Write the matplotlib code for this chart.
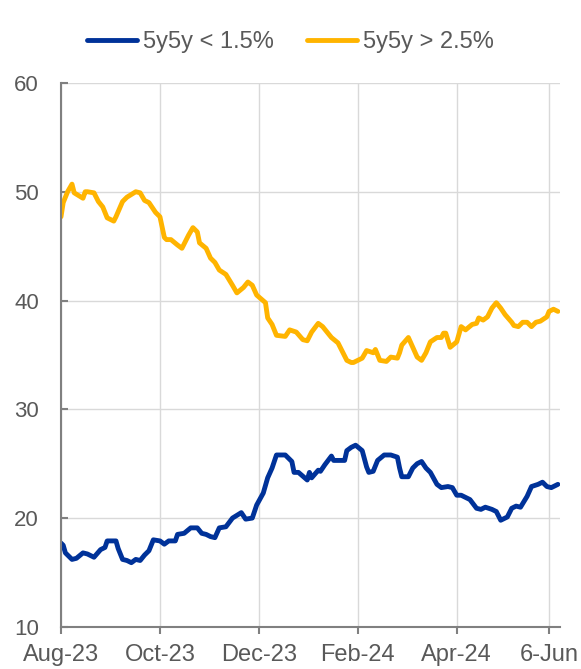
import numpy as np
import matplotlib as mpl
mpl.use('Agg')
import matplotlib.pyplot as plt

# observation index (trading days from start of Aug-23) and share of probability (%)
low_day = [0, 1, 2, 5, 7, 10, 12, 15, 18, 20, 21, 25, 26, 28, 30, 32, 34, 36, 38, 40,
           42, 45, 47, 49, 52, 53, 56, 59, 62, 64, 66, 68, 70, 72, 75, 78, 82, 84, 87, 89,
           92, 94, 96, 98, 102, 105, 106, 108, 112, 113, 114, 117, 118, 120, 123, 124, 129, 130, 132, 134,
           137, 139, 140, 142, 144, 147, 150, 153, 154, 155, 158, 160, 162, 164, 166, 168, 171, 173, 176, 178,
           180, 182, 186, 189, 191, 193, 196, 198, 200, 203, 205, 207, 209, 212, 214, 217, 219, 221, 223, 226]
low_val = [17.7, 17.5, 16.8, 16.2, 16.3, 16.8, 16.7, 16.4, 17.1, 17.3, 17.9, 17.9, 17.2, 16.2, 16.1, 15.9, 16.2, 16.1, 16.6, 17.0,
           18.0, 17.9, 17.6, 17.9, 17.9, 18.5, 18.6, 19.1, 19.1, 18.6, 18.5, 18.3, 18.2, 19.1, 19.2, 20.0, 20.5, 19.9, 20.0, 21.2,
           22.3, 23.7, 24.6, 25.8, 25.8, 25.2, 24.2, 24.2, 23.5, 24.2, 23.7, 24.4, 24.3, 24.9, 25.7, 25.3, 25.3, 26.2, 26.5, 26.7,
           26.2, 24.7, 24.2, 24.3, 25.3, 25.8, 25.8, 25.6, 24.6, 23.8, 23.8, 24.6, 25.0, 25.2, 24.6, 24.2, 23.1, 22.8, 22.9, 22.8,
           22.1, 22.1, 21.7, 20.9, 20.8, 21.0, 20.8, 20.6, 19.8, 20.1, 20.9, 21.1, 21.0, 22.0, 22.9, 23.1, 23.3, 22.9, 22.8, 23.1]

high_day = [0, 1, 3, 5, 6, 10, 11, 12, 15, 17, 19, 21, 24, 25, 28, 30, 34, 36, 38, 40,
            43, 45, 47, 48, 50, 53, 55, 58, 60, 62, 63, 66, 68, 70, 72, 75, 78, 80, 83, 85,
            87, 89, 93, 94, 96, 98, 102, 104, 107, 110, 112, 114, 117, 119, 121, 123, 126, 128, 130, 132,
            133, 137, 139, 142, 143, 145, 148, 150, 153, 154, 155, 158, 160, 162, 164, 166, 168, 171, 173, 174,
            175, 177, 180, 182, 184, 187, 189, 190, 192, 194, 196, 198, 200, 202, 205, 206, 208, 210, 212, 214,
            216, 218, 221, 222, 224, 226]
high_val = [47.7, 49.0, 50.0, 50.7, 49.9, 49.4, 50.0, 50.0, 49.9, 49.1, 48.6, 47.6, 47.3, 47.7, 49.1, 49.5, 50.0, 49.9, 49.2, 49.0,
            48.1, 47.7, 45.8, 45.6, 45.6, 45.1, 44.8, 46.0, 46.7, 46.3, 45.3, 44.8, 43.9, 43.5, 42.8, 42.4, 41.4, 40.7, 41.2, 41.7,
            41.4, 40.5, 39.8, 38.4, 37.8, 36.8, 36.7, 37.3, 37.1, 36.4, 36.3, 37.1, 37.9, 37.6, 37.1, 36.6, 36.1, 35.3, 34.5, 34.3,
            34.3, 34.7, 35.4, 35.2, 35.5, 34.5, 34.4, 34.8, 34.7, 35.2, 35.9, 36.6, 35.7, 34.8, 34.5, 35.2, 36.2, 36.6, 36.6, 37.0,
            37.0, 35.7, 36.2, 37.6, 37.3, 37.8, 37.9, 38.4, 38.2, 38.5, 39.3, 39.8, 39.3, 38.7, 38.0, 37.7, 37.6, 38.0, 38.0, 37.6,
            38.0, 38.1, 38.5, 39.0, 39.2, 39.0]

tick_day = [0, 45, 90, 135, 180, 222]
tick_lab = ['Aug-23', 'Oct-23', 'Dec-23', 'Feb-24', 'Apr-24', '6-Jun']

plt.rcParams['font.family'] = ['Liberation Sans', 'DejaVu Sans']

grey = '#595959'
fig = plt.figure(figsize=(5.81, 6.69), dpi=100)
ax = fig.add_axes([0.105, 0.063, 0.859, 0.813])

ax.plot(low_day, low_val, color='#003299', lw=3.5, label='5y5y < 1.5%', solid_capstyle='round')
ax.plot(high_day, high_val, color='#FFB400', lw=3.5, label='5y5y > 2.5%', solid_capstyle='round')

ax.set_xlim(0, 227)
ax.set_ylim(10, 60)
ax.set_yticks([10, 20, 30, 40, 50, 60])
ax.set_xticks(tick_day)
ax.set_xticklabels(tick_lab)

ax.grid(True, color='#d9d9d9', lw=1)
ax.set_axisbelow(True)
for s in ['top', 'right']:
    ax.spines[s].set_visible(False)
for s in ['left', 'bottom']:
    ax.spines[s].set_color('#808080')
    ax.spines[s].set_linewidth(1.5)

ax.tick_params(axis='y', direction='in', length=5, width=1.5, color='#808080',
               labelsize=16, labelcolor=grey, pad=16)
ax.tick_params(axis='x', direction='out', length=5, width=1.5, color='#808080',
               labelsize=17, labelcolor=grey, pad=7)

fig.legend(loc='upper center', bbox_to_anchor=(0.5, 0.985), ncol=2, frameon=False,
           fontsize=17, labelcolor=grey, handlelength=2.1, handletextpad=0.27,
           columnspacing=1.4)

plt.savefig('out.png', dpi=100)
